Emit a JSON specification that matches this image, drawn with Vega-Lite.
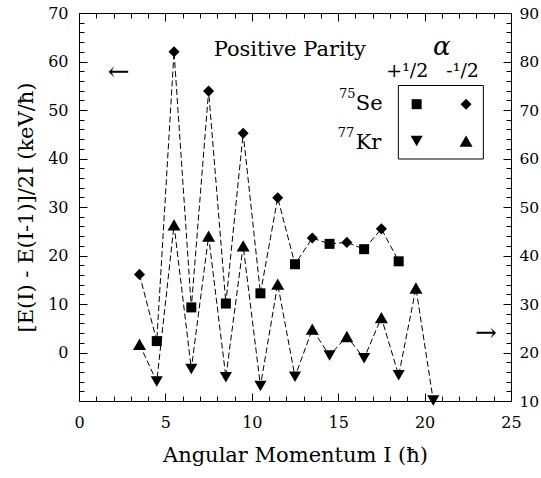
{
  "$schema": "https://vega.github.io/schema/vega-lite/v6.json",
  "autosize": {"type": "none"},
  "width": 432,
  "height": 388,
  "padding": {"left": 79, "top": 13, "right": 30, "bottom": 77},
  "config": {
    "view": {"stroke": null},
    "font": "DejaVu Serif",
    "text": {"font": "DejaVu Serif"},
    "axis": {
      "labelFont": "DejaVu Serif",
      "titleFont": "DejaVu Serif",
      "labelColor": "black",
      "titleColor": "black",
      "domainColor": "black",
      "tickColor": "black",
      "domainWidth": 1,
      "tickWidth": 1,
      "grid": false,
      "labelFlush": false,
      "labelOverlap": false,
      "titleFontWeight": "normal",
      "labelFontSize": 16,
      "titleFontSize": 21
    }
  },
  "datasets": {
    "se": [
      {"I": 3.5, "E": 16.1, "key": "Se -1/2"},
      {"I": 4.5, "E": 2.35, "key": "Se +1/2"},
      {"I": 5.5, "E": 62.0, "key": "Se -1/2"},
      {"I": 6.5, "E": 9.3, "key": "Se +1/2"},
      {"I": 7.5, "E": 53.9, "key": "Se -1/2"},
      {"I": 8.5, "E": 10.1, "key": "Se +1/2"},
      {"I": 9.5, "E": 45.2, "key": "Se -1/2"},
      {"I": 10.5, "E": 12.2, "key": "Se +1/2"},
      {"I": 11.5, "E": 31.9, "key": "Se -1/2"},
      {"I": 12.5, "E": 18.2, "key": "Se +1/2"},
      {"I": 13.5, "E": 23.6, "key": "Se -1/2"},
      {"I": 14.5, "E": 22.4, "key": "Se +1/2"},
      {"I": 15.5, "E": 22.7, "key": "Se -1/2"},
      {"I": 16.5, "E": 21.3, "key": "Se +1/2"},
      {"I": 17.5, "E": 25.5, "key": "Se -1/2"},
      {"I": 18.5, "E": 18.8, "key": "Se +1/2"}
    ],
    "kr": [
      {"I": 3.5, "E": 21.7, "key": "Kr -1/2"},
      {"I": 4.5, "E": 14.0, "key": "Kr +1/2"},
      {"I": 5.5, "E": 46.3, "key": "Kr -1/2"},
      {"I": 6.5, "E": 16.6, "key": "Kr +1/2"},
      {"I": 7.5, "E": 44.0, "key": "Kr -1/2"},
      {"I": 8.5, "E": 14.9, "key": "Kr +1/2"},
      {"I": 9.5, "E": 42.0, "key": "Kr -1/2"},
      {"I": 10.5, "E": 13.1, "key": "Kr +1/2"},
      {"I": 11.5, "E": 34.1, "key": "Kr -1/2"},
      {"I": 12.5, "E": 15.0, "key": "Kr +1/2"},
      {"I": 13.5, "E": 24.8, "key": "Kr -1/2"},
      {"I": 14.5, "E": 19.4, "key": "Kr +1/2"},
      {"I": 15.5, "E": 23.3, "key": "Kr -1/2"},
      {"I": 16.5, "E": 18.8, "key": "Kr +1/2"},
      {"I": 17.5, "E": 27.2, "key": "Kr -1/2"},
      {"I": 18.5, "E": 15.3, "key": "Kr +1/2"},
      {"I": 19.5, "E": 33.3, "key": "Kr -1/2"},
      {"I": 20.5, "E": 10.1, "key": "Kr +1/2"}
    ],
    "leg": [
      {"x": 19.54, "y": 51.2, "key": "Se +1/2"},
      {"x": 22.4, "y": 51.2, "key": "Se -1/2"},
      {"x": 19.54, "y": 43.6, "key": "Kr +1/2"},
      {"x": 22.4, "y": 43.6, "key": "Kr -1/2"}
    ]
  },
  "resolve": {
    "scale": {"x": "independent", "y": "independent"},
    "axis": {"x": "independent", "y": "independent"}
  },
  "layer": [
    {
      "data": {"name": "se"},
      "mark": {"type": "line", "color": "black", "strokeWidth": 1, "strokeDash": [6, 3]},
      "encoding": {
        "x": {"field": "I", "type": "quantitative",
          "scale": {"domain": [0, 25], "nice": false, "zero": false},
          "axis": {"orient": "bottom", "values": [0, 5, 10, 15, 20, 25], "tickSize": -8, "labelPadding": 21,
            "title": "Angular Momentum I (ħ)", "titlePadding": 14}},
        "y": {"field": "E", "type": "quantitative",
          "scale": {"domain": [-10, 70], "nice": false, "zero": false},
          "axis": {"orient": "left", "values": [0, 10, 20, 30, 40, 50, 60, 70], "tickSize": -8, "labelPadding": 19,
            "title": "[E(I) - E(I-1)]/2I (keV/ħ)", "titlePadding": 11}}
      }
    },
    {
      "data": {"name": "se"},
      "mark": {"type": "point", "filled": true, "color": "black", "opacity": 1},
      "encoding": {
        "x": {"field": "I", "type": "quantitative",
          "scale": {"domain": [0, 25], "nice": false, "zero": false},
          "axis": {"orient": "bottom", "values": [1,2,3,4,6,7,8,9,11,12,13,14,16,17,18,19,21,22,23,24], "tickSize": -5, "labels": false, "domain": false, "title": null}},
        "y": {"field": "E", "type": "quantitative",
          "scale": {"domain": [-10, 70], "nice": false, "zero": false},
          "axis": {"orient": "left", "values": [-8,-6,-4,-2,2,4,6,8,12,14,16,18,22,24,26,28,32,34,36,38,42,44,46,48,52,54,56,58,62,64,66,68], "tickSize": -5, "labels": false, "domain": false, "title": null}},
        "shape": {"field": "key", "type": "nominal",
          "scale": {"domain": ["Se +1/2", "Se -1/2", "Kr +1/2", "Kr -1/2"], "range": ["square", "diamond", "triangle-down", "triangle-up"]}, "legend": null},
        "size": {"field": "key", "type": "nominal",
          "scale": {"domain": ["Se +1/2", "Se -1/2", "Kr +1/2", "Kr -1/2"], "range": [100, 170, 140, 140]}, "legend": null}
      }
    },
    {
      "data": {"name": "kr"},
      "mark": {"type": "line", "color": "black", "strokeWidth": 1, "strokeDash": [6, 3]},
      "encoding": {
        "x": {"field": "I", "type": "quantitative",
          "scale": {"domain": [0, 25], "nice": false, "zero": false},
          "axis": {"orient": "top", "values": [0, 5, 10, 15, 20, 25], "tickSize": -8, "labels": false, "title": null}},
        "y": {"field": "E", "type": "quantitative",
          "scale": {"domain": [10, 90], "nice": false, "zero": false},
          "axis": {"orient": "right", "values": [10, 20, 30, 40, 50, 60, 70, 80, 90], "tickSize": -8, "labelPadding": 16, "labelFontSize": 15.5, "title": null}}
      }
    },
    {
      "data": {"name": "kr"},
      "mark": {"type": "point", "filled": true, "color": "black", "opacity": 1},
      "encoding": {
        "x": {"field": "I", "type": "quantitative",
          "scale": {"domain": [0, 25], "nice": false, "zero": false},
          "axis": {"orient": "top", "values": [1,2,3,4,6,7,8,9,11,12,13,14,16,17,18,19,21,22,23,24], "tickSize": -5, "labels": false, "domain": false, "title": null}},
        "y": {"field": "E", "type": "quantitative",
          "scale": {"domain": [10, 90], "nice": false, "zero": false},
          "axis": {"orient": "right", "values": [12,14,16,18,22,24,26,28,32,34,36,38,42,44,46,48,52,54,56,58,62,64,66,68,72,74,76,78,82,84,86,88], "tickSize": -5, "labels": false, "domain": false, "title": null}},
        "shape": {"field": "key", "type": "nominal",
          "scale": {"domain": ["Se +1/2", "Se -1/2", "Kr +1/2", "Kr -1/2"], "range": ["square", "diamond", "triangle-down", "triangle-up"]}, "legend": null},
        "size": {"field": "key", "type": "nominal",
          "scale": {"domain": ["Se +1/2", "Se -1/2", "Kr +1/2", "Kr -1/2"], "range": [100, 170, 140, 140]}, "legend": null}
      }
    },
    {
      "data": {"name": "leg"},
      "mark": {"type": "point", "filled": true, "color": "black", "opacity": 1},
      "encoding": {
        "x": {"field": "x", "type": "quantitative", "scale": {"domain": [0, 25], "nice": false, "zero": false}, "axis": null},
        "y": {"field": "y", "type": "quantitative", "scale": {"domain": [-10, 70], "nice": false, "zero": false}, "axis": null},
        "shape": {"field": "key", "type": "nominal",
          "scale": {"domain": ["Se +1/2", "Se -1/2", "Kr +1/2", "Kr -1/2"], "range": ["square", "diamond", "triangle-down", "triangle-up"]}, "legend": null},
        "size": {"field": "key", "type": "nominal",
          "scale": {"domain": ["Se +1/2", "Se -1/2", "Kr +1/2", "Kr -1/2"], "range": [100, 170, 140, 140]}, "legend": null}
      }
    },
    {
      "data": {"values": [{"x": 18.48, "x2": 23.4, "y": 55.05, "y2": 39.9}]},
      "mark": {"type": "rect", "fill": null, "filled": false, "stroke": "black", "strokeWidth": 1},
      "encoding": {
        "x": {"field": "x", "type": "quantitative", "scale": {"domain": [0, 25], "nice": false, "zero": false}, "axis": null},
        "x2": {"field": "x2"},
        "y": {"field": "y", "type": "quantitative", "scale": {"domain": [-10, 70], "nice": false, "zero": false}, "axis": null},
        "y2": {"field": "y2"}
      }
    },
    {
      "data": {"values": [{"x": 12.2, "y": 61.2, "t": "Positive Parity"}]},
      "mark": {"type": "text", "fontSize": 21, "align": "center", "baseline": "alphabetic", "color": "black"},
      "encoding": {
        "x": {"field": "x", "type": "quantitative", "scale": {"domain": [0, 25], "nice": false, "zero": false}, "axis": null},
        "y": {"field": "y", "type": "quantitative", "scale": {"domain": [-10, 70], "nice": false, "zero": false}, "axis": null},
        "text": {"field": "t"}
      }
    },
    {
      "data": {"values": [{"x": 21.0, "y": 61.4, "t": "α"}]},
      "mark": {"type": "text", "fontSize": 26, "fontStyle": "italic", "align": "center", "baseline": "alphabetic", "color": "black"},
      "encoding": {
        "x": {"field": "x", "type": "quantitative", "scale": {"domain": [0, 25], "nice": false, "zero": false}, "axis": null},
        "y": {"field": "y", "type": "quantitative", "scale": {"domain": [-10, 70], "nice": false, "zero": false}, "axis": null},
        "text": {"field": "t"}
      }
    },
    {
      "data": {"values": [{"x": 19.0, "y": 56.8, "t": "+¹/2"}, {"x": 22.2, "y": 56.8, "t": "-¹/2"}]},
      "mark": {"type": "text", "fontSize": 19, "align": "center", "baseline": "alphabetic", "color": "black"},
      "encoding": {
        "x": {"field": "x", "type": "quantitative", "scale": {"domain": [0, 25], "nice": false, "zero": false}, "axis": null},
        "y": {"field": "y", "type": "quantitative", "scale": {"domain": [-10, 70], "nice": false, "zero": false}, "axis": null},
        "text": {"field": "t"}
      }
    },
    {
      "data": {"values": [{"x": 17.57, "y": 50.0, "t": "Se"}, {"x": 17.5, "y": 42.0, "t": "Kr"}]},
      "mark": {"type": "text", "fontSize": 21, "align": "right", "baseline": "alphabetic", "color": "black"},
      "encoding": {
        "x": {"field": "x", "type": "quantitative", "scale": {"domain": [0, 25], "nice": false, "zero": false}, "axis": null},
        "y": {"field": "y", "type": "quantitative", "scale": {"domain": [-10, 70], "nice": false, "zero": false}, "axis": null},
        "text": {"field": "t"}
      }
    },
    {
      "data": {"values": [{"x": 17.57, "y": 50.0, "t": "75"}, {"x": 17.5, "y": 42.0, "t": "77"}]},
      "mark": {"type": "text", "fontSize": 13, "align": "right", "baseline": "alphabetic", "dx": -27, "dy": -12, "color": "black"},
      "encoding": {
        "x": {"field": "x", "type": "quantitative", "scale": {"domain": [0, 25], "nice": false, "zero": false}, "axis": null},
        "y": {"field": "y", "type": "quantitative", "scale": {"domain": [-10, 70], "nice": false, "zero": false}, "axis": null},
        "text": {"field": "t"}
      }
    },
    {
      "data": {"values": [{"x": 2.3, "y": 57.8, "t": "←"}, {"x": 23.55, "y": 4.0, "t": "→"}]},
      "mark": {"type": "text", "fontSize": 26, "align": "center", "baseline": "middle", "color": "black"},
      "encoding": {
        "x": {"field": "x", "type": "quantitative", "scale": {"domain": [0, 25], "nice": false, "zero": false}, "axis": null},
        "y": {"field": "y", "type": "quantitative", "scale": {"domain": [-10, 70], "nice": false, "zero": false}, "axis": null},
        "text": {"field": "t"}
      }
    }
  ]
}
